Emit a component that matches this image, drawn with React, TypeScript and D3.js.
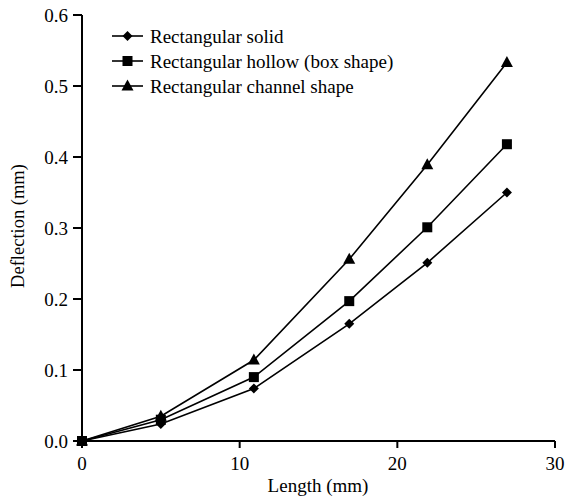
import React from "react";
import * as d3 from "d3";

const lengths = [0, 5, 10.9, 16.95, 21.9, 26.95];
const solid = [0, 0.024, 0.074, 0.165, 0.251, 0.35];
const hollow = [0, 0.03, 0.09, 0.197, 0.301, 0.418];
const channel = [0, 0.035, 0.114, 0.256, 0.389, 0.533];
const seriesNames = ["Rectangular solid", "Rectangular hollow (box shape)", "Rectangular channel shape"];
const markerTypes = ["diamond", "square", "triangle"];
const xTicks = [0, 10, 20, 30];
const yTicks = [0, 0.1, 0.2, 0.3, 0.4, 0.5, 0.6];

const W = 567;
const H = 500;
const left = 82;
const right = 555;
const top = 15;
const bottom = 441;

function Marker({ type, x, y }: { type: string; x: number; y: number }) {
  if (type === "square") return <rect x={x - 5} y={y - 5} width={10} height={10} fill="#000" />;
  if (type === "triangle") return <path d={`M${x},${y - 6.5}L${x + 6},${y + 4.5}L${x - 6},${y + 4.5}Z`} fill="#000" />;
  return <path d={`M${x},${y - 5}L${x + 5},${y}L${x},${y + 5}L${x - 5},${y}Z`} fill="#000" />;
}

export default function App() {
  const x = d3.scaleLinear().domain([0, 30]).range([left, right]);
  const y = d3.scaleLinear().domain([0, 0.6]).range([bottom, top]);
  const series = [solid, hollow, channel];
  const line = d3
    .line<[number, number]>()
    .x((d) => x(d[0]))
    .y((d) => y(d[1]));
  const font = "'Liberation Serif', 'Times New Roman', serif";
  return (
    <svg width={W} height={H} style={{ position: "absolute", left: 0, top: 0, background: "#fff" }} fontFamily={font}>
      {series.map((s, i) => (
        <path
          key={"l" + i}
          d={line(lengths.map((l, j) => [l, s[j]] as [number, number])) || ""}
          fill="none"
          stroke="#000"
          strokeWidth={1.6}
        />
      ))}
      {series.map((s, i) =>
        lengths.map((l, j) => <Marker key={`m${i}-${j}`} type={markerTypes[i]} x={x(l)} y={y(s[j])} />)
      )}
      <line x1={left} x2={left} y1={top} y2={bottom} stroke="#000" strokeWidth={2} />
      <line x1={left} x2={right} y1={bottom} y2={bottom} stroke="#000" strokeWidth={2} />
      {yTicks.map((t) => (
        <g key={"y" + t}>
          <line x1={left - 9} x2={left} y1={y(t)} y2={y(t)} stroke="#000" strokeWidth={2} />
          <text x={left - 14} y={y(t)} dy="0.35em" textAnchor="end" fontSize={19}>
            {t.toFixed(1)}
          </text>
        </g>
      ))}
      {xTicks.map((t) => (
        <g key={"x" + t}>
          <line x1={x(t)} x2={x(t)} y1={bottom} y2={bottom + 7} stroke="#000" strokeWidth={2} />
          <text x={x(t)} y={470} textAnchor="middle" fontSize={19}>
            {t}
          </text>
        </g>
      ))}
      <text x={318} y={492} textAnchor="middle" fontSize={19}>
        Length (mm)
      </text>
      <text transform={`translate(18,226) rotate(-90)`} dy="0.35em" textAnchor="middle" fontSize={18.5}>
        Deflection (mm)
      </text>
      {seriesNames.map((n, i) => {
        const ly = 36 + i * 25;
        return (
          <g key={"lg" + i}>
            <line x1={112} x2={143} y1={ly} y2={ly} stroke="#000" strokeWidth={1.6} />
            <Marker type={markerTypes[i]} x={127.5} y={ly} />
            <text x={150} y={ly} dy="0.35em" fontSize={19}>
              {n}
            </text>
          </g>
        );
      })}
    </svg>
  );
}
